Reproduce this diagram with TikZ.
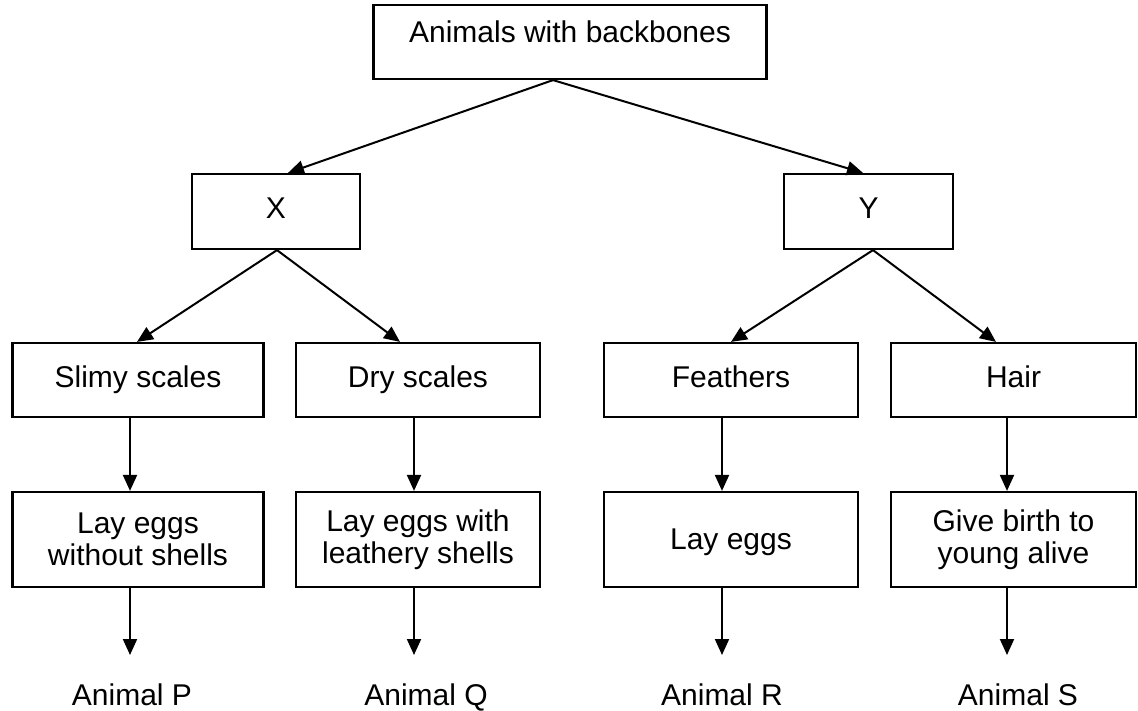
\documentclass[tikz,border=0pt]{standalone}
\usepackage{fontspec}
\setmainfont{Liberation Sans}
\usetikzlibrary{arrows.meta}
\begin{document}
\begin{tikzpicture}[x=1pt,y=-1pt,
  box/.style={draw,line width=2.2pt,inner sep=0pt,align=center,
    font=\fontsize{30}{32}\selectfont},
  lbl/.style={inner sep=0pt,anchor=base,font=\fontsize{30}{32}\selectfont},
  arr/.style={line width=2pt,-{Triangle[length=16pt,width=14pt]}},
  oneline/.style={text height=21pt,text depth=7pt},
  row2/.style={box,oneline,minimum height=74pt},
  row3/.style={box,minimum height=95pt}]
\useasboundingbox[fill=white] (0,0) rectangle (1138,710);

% root and the two main groups
\node[box,minimum width=393pt,minimum height=74pt,text height=21pt,text depth=21pt]
  (root) at (570,42) {Animals with backbones};
\node[box,oneline,minimum width=168pt,minimum height=75pt] (nx) at (276,211.5) {X};
\node[box,oneline,minimum width=169pt,minimum height=75pt] (ny) at (868.5,211.5) {Y};

% body covering
\node[row2,minimum width=251pt] (slimy) at (138,380) {Slimy scales};
\node[row2,minimum width=244pt] (dry) at (418,380) {Dry scales};
\node[row2,minimum width=254pt] (feath) at (731,380) {Feathers};
\node[row2,minimum width=245pt] (hair) at (1013.5,380) {Hair};

% reproduction
\node[row3,minimum width=251pt] (noshell) at (138,539.5) {Lay eggs\\without shells};
\node[row3,minimum width=244pt] (leath) at (418,539.5) {Lay eggs with\\leathery shells};
\node[row3,minimum width=254pt,text height=21pt,text depth=1pt] (eggs) at (731,539.5) {Lay eggs};
\node[row3,minimum width=245pt] (birth) at (1013.5,539.5) {Give birth to\\young alive};

% resulting animals
\node[lbl] (aP) at (132,705) {Animal P};
\node[lbl] (aQ) at (426,705) {Animal Q};
\node[lbl] (aR) at (722,705) {Animal R};
\node[lbl] (aS) at (1018,705) {Animal S};
\coordinate (eP) at (130,655);
\coordinate (eQ) at (414,655);
\coordinate (eR) at (722,655);
\coordinate (eS) at (1007,655);

% connectors
\draw[arr] ([xshift=-17pt]root.south) -- ([xshift=12pt]nx.north);
\draw[arr] ([xshift=-17pt]root.south) -- ([xshift=-5.5pt]ny.north);

\draw[arr] ([xshift=1pt]nx.south) -- ([xshift=-1pt]slimy.north);
\draw[arr] ([xshift=1pt]nx.south) -- ([xshift=-18pt]dry.north);
\draw[arr] ([xshift=4.5pt]ny.south) -- (feath.north);
\draw[arr] ([xshift=4.5pt]ny.south) -- ([xshift=-17.5pt]hair.north);

\draw[arr] ([xshift=-8pt]slimy.south) -- ([xshift=-8pt]noshell.north);
\draw[arr] ([xshift=-4pt]dry.south) -- ([xshift=-4pt]leath.north);
\draw[arr] ([xshift=-9pt]feath.south) -- ([xshift=-9pt]eggs.north);
\draw[arr] ([xshift=-6.5pt]hair.south) -- ([xshift=-6.5pt]birth.north);

\draw[arr] ([xshift=-8pt]noshell.south) -- (eP);
\draw[arr] ([xshift=-4pt]leath.south) -- (eQ);
\draw[arr] ([xshift=-9pt]eggs.south) -- (eR);
\draw[arr] ([xshift=-6.5pt]birth.south) -- (eS);
\end{tikzpicture}
\end{document}
